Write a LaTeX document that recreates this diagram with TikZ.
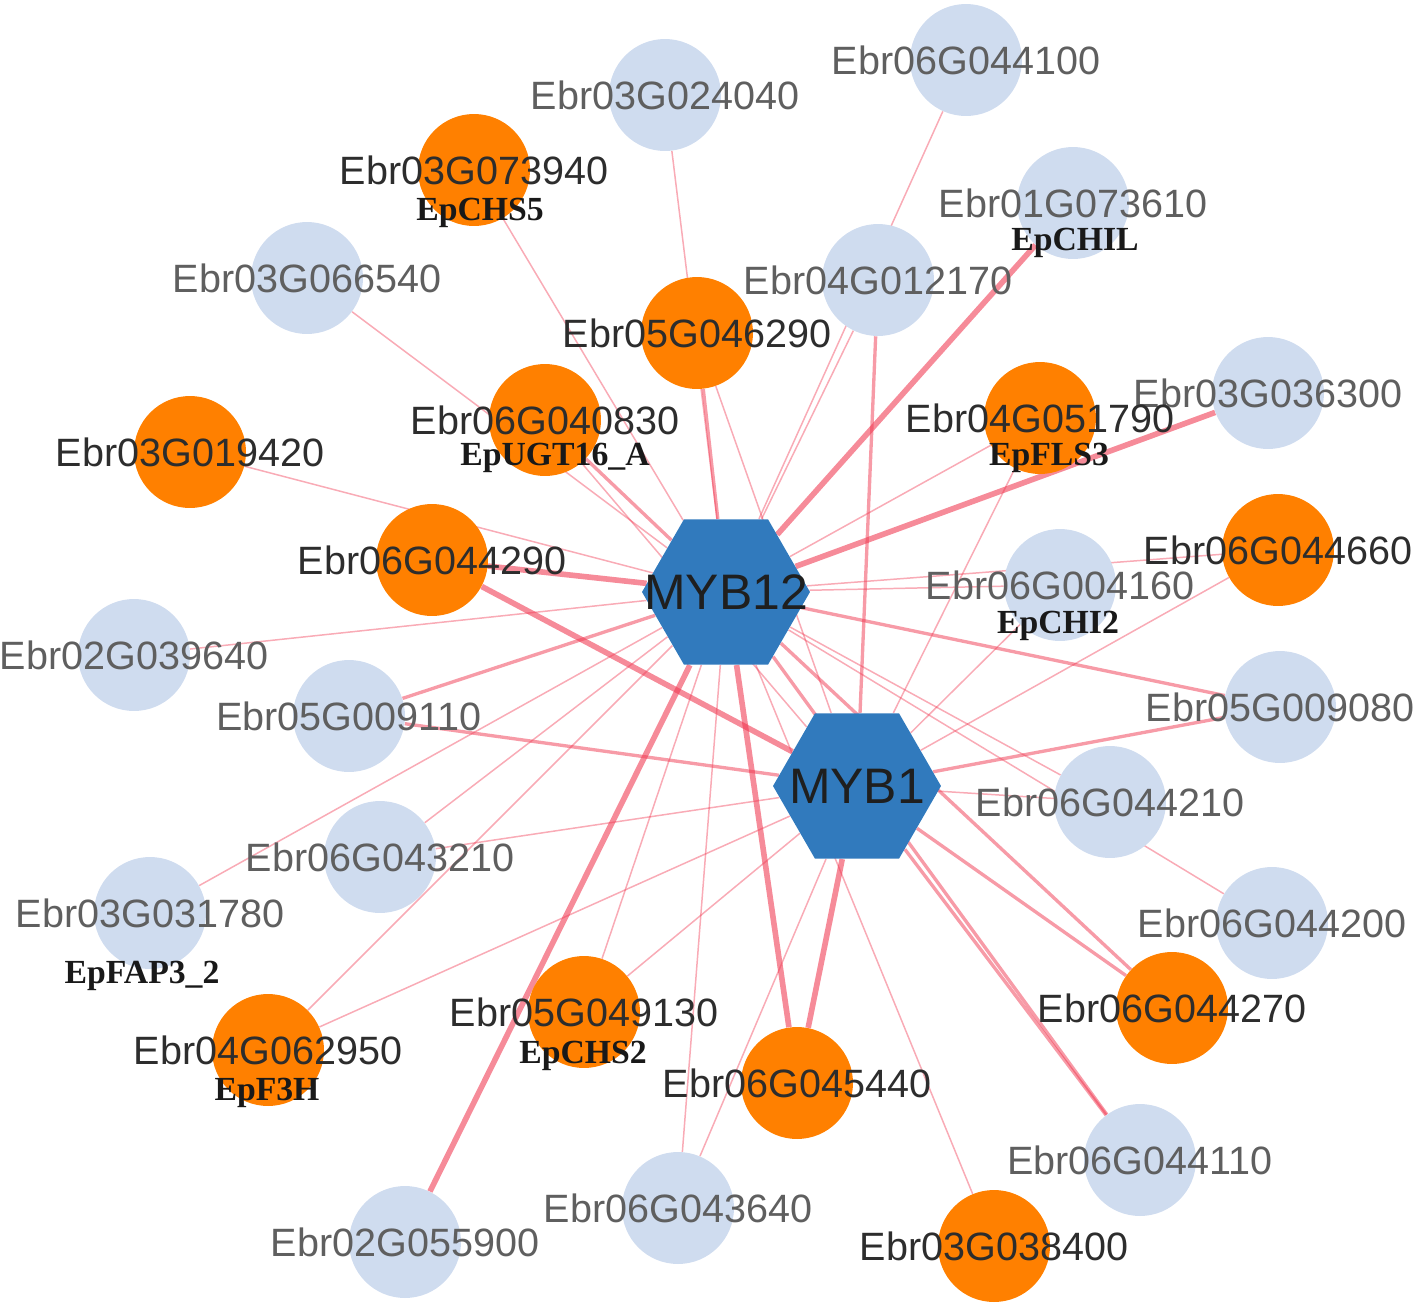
\documentclass[tikz,border=0pt]{standalone}
\usepackage{fontspec}
\setmainfont{Liberation Sans}
\newfontfamily\genefont{Liberation Serif}
\usepackage{tikz}
\usetikzlibrary{shapes.geometric}
\usetikzlibrary{backgrounds}
\definecolor{hubblue}{RGB}{49,122,189}
\definecolor{lightblue}{RGB}{207,220,239}
\definecolor{hitorange}{RGB}{255,128,0}
\definecolor{idgray}{RGB}{95,95,95}
\definecolor{iddark}{RGB}{45,45,45}
\definecolor{linkred}{RGB}{240,55,80}
\tikzset{
  idtext/.style         = { font=\fontsize{22.5}{27}\selectfont, inner sep=0pt },
  genetext/.style       = { font=\genefont\bfseries\fontsize{19.2}{23}\selectfont, text=black!90, inner sep=0pt },
  hubtext/.style        = { font=\fontsize{28.4}{34}\selectfont, text=black!88 },
}
\tikzset{
  lightnode/.style      = { circle, fill=lightblue, minimum size=2.24cm, inner sep=0pt,
                            label={[idtext,text=idgray]center:#1} },
  hitnode/.style        = { circle, fill=hitorange, minimum size=2.24cm, inner sep=0pt,
                            label={[idtext,text=iddark]center:#1} },
  hubnode/.style        = { regular polygon, regular polygon sides=6, fill=hubblue,
                            minimum size=3.36cm, inner sep=0pt, label={[hubtext]center:#1} },
  link/.style           = { draw=linkred, draw opacity=0.42 },
  weaklink/.style       = { link, line width=0.85pt },
  midlink/.style        = { link, draw opacity=0.5, line width=1.9pt },
  stronglink/.style     = { link, draw opacity=0.58, line width=3.2pt }
}

\begin{document}
\begin{tikzpicture}[x=0.02cm, y=-0.02cm]
  \useasboundingbox (0,0) rectangle (1418,1309);

  % hubs
  \node (m12) [hubnode=MYB12] at (726,592) {};
  \node (m1)  [hubnode=MYB1]  at (857,786) {};

  % targets without annotation
  \node (n06g044100) [lightnode=Ebr06G044100] at (966,60)    {};
  \node (n03g024040) [lightnode=Ebr03G024040] at (665,95)    {};
  \node (n03g066540) [lightnode=Ebr03G066540] at (307,278)   {};
  \node (n04g012170) [lightnode=Ebr04G012170] at (878,280)   {};
  \node (n01g073610) [lightnode=Ebr01G073610] at (1073,203)  {};
  \node (n03g036300) [lightnode=Ebr03G036300] at (1268,393)  {};
  \node (n06g004160) [lightnode=Ebr06G004160] at (1060,585)  {};
  \node (n02g039640) [lightnode=Ebr02G039640] at (134,655)   {};
  \node (n05g009110) [lightnode=Ebr05G009110] at (349,716)   {};
  \node (n05g009080) [lightnode=Ebr05G009080] at (1280,707)  {};
  \node (n06g044210) [lightnode=Ebr06G044210] at (1110,802)  {};
  \node (n06g043210) [lightnode=Ebr06G043210] at (380,857)   {};
  \node (n03g031780) [lightnode=Ebr03G031780] at (150,913)   {};
  \node (n06g044200) [lightnode=Ebr06G044200] at (1272,923)  {};
  \node (n06g044110) [lightnode=Ebr06G044110] at (1140,1160) {};
  \node (n06g043640) [lightnode=Ebr06G043640] at (678,1208)  {};
  \node (n02g055900) [lightnode=Ebr02G055900] at (405,1242)  {};

  % flavonoid genes
  \node (n03g073940) [hitnode=Ebr03G073940] at (474,170)   {};
  \node (n05g046290) [hitnode=Ebr05G046290] at (697,333)   {};
  \node (n04g051790) [hitnode=Ebr04G051790] at (1040,418)  {};
  \node (n06g040830) [hitnode=Ebr06G040830] at (545,420)   {};
  \node (n03g019420) [hitnode=Ebr03G019420] at (190,452)   {};
  \node (n06g044290) [hitnode=Ebr06G044290] at (432,560)   {};
  \node (n06g044660) [hitnode=Ebr06G044660] at (1278,550)  {};
  \node (n06g044270) [hitnode=Ebr06G044270] at (1172,1008) {};
  \node (n05g049130) [hitnode=Ebr05G049130] at (584,1012)  {};
  \node (n04g062950) [hitnode=Ebr04G062950] at (268,1050)  {};
  \node (n06g045440) [hitnode=Ebr06G045440] at (797,1083)  {};
  \node (n03g038400) [hitnode=Ebr03G038400] at (994,1246)  {};

  % gene names
  \node (chs5)   [genetext] at (480,213)  {EpCHS5};
  \node (chil)   [genetext] at (1075,243) {EpCHIL};
  \node (fls3)   [genetext] at (1049,458) {EpFLS3};
  \node (ugt16a) [genetext] at (555,458)  {EpUGT16\_A};
  \node (chi2)   [genetext] at (1058,626) {EpCHI2};
  \node (fap32)  [genetext] at (142,976)  {EpFAP3\_2};
  \node (chs2)   [genetext] at (583,1056) {EpCHS2};
  \node (f3h)    [genetext] at (267,1093) {EpF3H};

  \begin{scope}[on background layer]
    \draw [weaklink]   (m12) -- (n06g044100);
    \draw [weaklink]   (m12) -- (n03g024040);
    \draw [weaklink]   (m12) -- (n03g073940);
    \draw [weaklink]   (m12) -- (n03g066540);
    \draw [midlink]    (m12) -- (n05g046290);
    \draw [weaklink]   (m12) -- (n04g012170);
    \draw [stronglink] (m12) -- (n01g073610);
    \draw [stronglink] (m12) -- (n03g036300);
    \draw [weaklink]   (m12) -- (n04g051790);
    \draw [midlink]    (m12) -- (n06g040830);
    \draw [weaklink]   (m12) -- (n03g019420);
    \draw [stronglink] (m12) -- (n06g044290);
    \draw [weaklink]   (m12) -- (n06g044660);
    \draw [weaklink]   (m12) -- (n06g004160);
    \draw [weaklink]   (m12) -- (n02g039640);
    \draw [midlink]    (m12) -- (n05g009110);
    \draw [midlink]    (m12) -- (n05g009080);
    \draw [weaklink]   (m12) -- (n06g044210);
    \draw [weaklink]   (m12) -- (n06g044200);
    \draw [weaklink]   (m12) -- (n03g031780);
    \draw [weaklink]   (m12) -- (n04g062950);
    \draw [weaklink]   (m12) -- (n05g049130);
    \draw [stronglink] (m12) -- (n06g045440);
    \draw [midlink]    (m12) -- (n06g044270);
    \draw [midlink]    (m12) -- (n06g044110);
    \draw [weaklink]   (m12) -- (n03g038400);
    \draw [weaklink]   (m12) -- (n06g043640);
    \draw [stronglink] (m12) -- (n02g055900);
    \draw [weaklink]   (m12) -- (n06g043210);

    \draw [weaklink]   (m1) -- (n05g046290);
    \draw [midlink]    (m1) -- (n04g012170);
    \draw [weaklink]   (m1) -- (n04g051790);
    \draw [weaklink]   (m1) -- (n06g040830);
    \draw [stronglink] (m1) -- (n06g044290);
    \draw [weaklink]   (m1) -- (n06g044660);
    \draw [weaklink]   (m1) -- (n06g004160);
    \draw [midlink]    (m1) -- (n05g009110);
    \draw [midlink]    (m1) -- (n05g009080);
    \draw [weaklink]   (m1) -- (n06g044210);
    \draw [weaklink]   (m1) -- (n06g043210);
    \draw [weaklink]   (m1) -- (n04g062950);
    \draw [weaklink]   (m1) -- (n05g049130);
    \draw [stronglink] (m1) -- (n06g045440);
    \draw [midlink]    (m1) -- (n06g044270);
    \draw [midlink]    (m1) -- (n06g044110);
    \draw [weaklink]   (m1) -- (n06g043640);
  \end{scope}
\end{tikzpicture}
\end{document}
